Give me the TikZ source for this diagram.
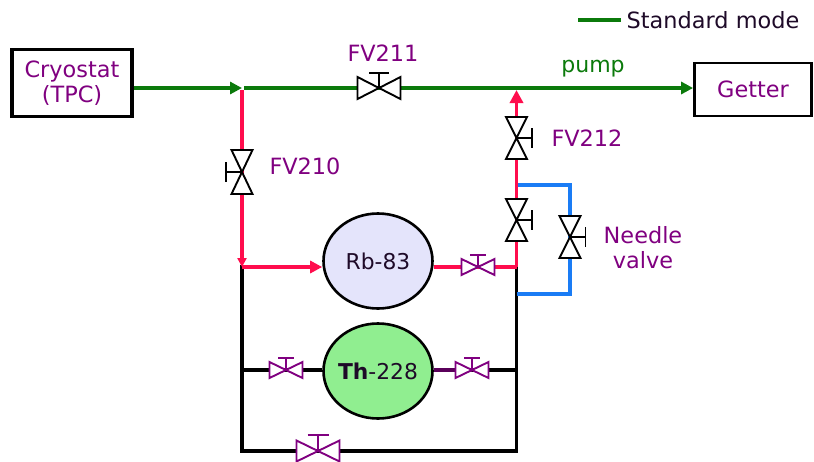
\documentclass[tikz,border=0pt]{standalone}
\usepackage{fontspec}
\setmainfont{DejaVu Sans}
\usetikzlibrary{arrows.meta,calc,shapes.geometric}
\definecolor{pgreen}{HTML}{0B7A0B}
\definecolor{pred}{HTML}{FF0D4D}
\definecolor{pblue}{HTML}{1A7CF5}
\definecolor{ppurple}{HTML}{800080}
\definecolor{pdark}{HTML}{1E0A28}
\definecolor{rbfill}{HTML}{E4E4FB}
\definecolor{thfill}{HTML}{90EE90}
\tikzset{
  boxnode/.style={draw=black,line width=3.2pt,fill=white,inner sep=0pt,align=center,text=ppurple,font=\fontsize{22.4}{26}\selectfont},
  tank/.style={draw=black,line width=2.6pt,ellipse,inner sep=-8pt,minimum width=109pt,minimum height=95pt,text=pdark,font=\fontsize{21.8}{24}\selectfont},
  lbl/.style={inner sep=0pt,align=center,text=ppurple,font=\fontsize{22.4}{26}\selectfont},
  pipe/.style={line width=3.8pt,line join=miter},
  greenpipe/.style={pipe,draw=pgreen},
  redpipe/.style={pipe,draw=pred},
  bluepipe/.style={pipe,draw=pblue},
  blackpipe/.style={pipe,draw=black},
  tip/.style={-{Triangle[length=#1,width=#1]}},
}
% horizontal-flow valve: name, colour, half width, half height, stem, bar half width
\newcommand{\vlvH}[6]{%
  \coordinate (#1stem) at ($(#1)+(0,-#5)$);
  \draw[#2,line width=1.9pt,fill=white,line join=miter]
    ($(#1)+(-#3,-#4)$) -- ($(#1)+(#3,#4)$) -- ($(#1)+(#3,-#4)$) -- ($(#1)+(-#3,#4)$) -- cycle;
  \draw[#2,line width=1.9pt] (#1) -- (#1stem);
  \draw[#2,line width=1.9pt] ($(#1stem)+(-#6,0)$) -- ($(#1stem)+(#6,0)$);
}
% vertical-flow valve: name, colour, half width, half height, signed stem, bar half height
\newcommand{\vlvV}[6]{%
  \coordinate (#1stem) at ($(#1)+(#5,0)$);
  \draw[#2,line width=1.9pt,fill=white,line join=miter]
    ($(#1)+(-#3,-#4)$) -- ($(#1)+(#3,-#4)$) -- ($(#1)+(-#3,#4)$) -- ($(#1)+(#3,#4)$) -- cycle;
  \draw[#2,line width=1.9pt] (#1) -- (#1stem);
  \draw[#2,line width=1.9pt] ($(#1stem)+(0,-#6)$) -- ($(#1stem)+(0,#6)$);
}
\begin{document}
\begin{tikzpicture}[x=1pt,y=-1pt]
\useasboundingbox (0,0) rectangle (814,461);
% nodes
\node[boxnode,minimum width=120pt,minimum height=67pt] (cryo) at (72,83) {Cryostat\\[-1pt](TPC)};
\node[boxnode,minimum width=117pt,minimum height=53pt,line width=2.8pt] (getter) at (753,89.5) {Getter};
\node[tank,fill=rbfill] (rb) at (378,261) {Rb-83};
\node[tank,fill=thfill] (th) at (378,371) {\textbf{Th}-228};
% junctions
\coordinate (jtop) at (242,88);
\coordinate (jtopb) at (244,88);
\coordinate (jrtop) at (516.5,90);
\coordinate (jla) at (242,90);
\coordinate (jl) at (242,267);
\coordinate (jr) at (516.5,267);
\coordinate (jbt) at (516.5,185);
\coordinate (blt) at (570,185);
\coordinate (blb) at (570,294);
\coordinate (jbb) at (516.5,294);
\coordinate (thl) at (242,370);
\coordinate (thr) at (516.5,370);
\coordinate (bl) at (242,451);
\coordinate (br) at (516.5,451);
\coordinate (lega) at (578,20);
\coordinate (legb) at (621,20);
% valve centres
\coordinate (fvb) at (379,88);
\coordinate (fva) at (242,172);
\coordinate (fvc) at (516.5,138);
\coordinate (vmid) at (516.5,220);
\coordinate (needle) at (570,237);
\coordinate (vrb) at (478,267);
\coordinate (vthl) at (286,370);
\coordinate (vthr) at (472,370);
\coordinate (vbot) at (318,451);
% pipes
\draw[blackpipe,line cap=rect] (jl) -- (bl) -- (br) -- (jr);
\draw[blackpipe] (thl) -- (thl -| th.west);
\draw[blackpipe] (thr -| th.east) -- (thr);
\draw[line width=3.8pt,draw=ppurple!70!black] (thr -| th.east) -- (vthr);
\draw[bluepipe] (jbt) -- (blt) -- (blb) -- (jbb);
\draw[redpipe,tip=9pt] (jla) -- (jl);
\draw[redpipe,tip=12pt,line width=4pt] (jl) -- (jl -| rb.west);
\draw[redpipe,line width=4pt] (jr -| rb.east) -- (jr);
\draw[redpipe,tip=13pt] (jr) -- (jrtop);
\draw[greenpipe,tip=12pt] (cryo.east |- jtop) -- (jtop);
\draw[greenpipe,line width=3.2pt,tip=12pt] (jtopb) -- (jtopb -| getter.west);
\draw[greenpipe] (jtopb) -- (fvb);
\draw[greenpipe,line width=3.2pt] (lega) -- (legb);
% valves
\vlvH{fvb}{black}{21.5}{11}{15}{10}
\vlvV{fva}{black}{10.5}{22}{-16}{10}
\vlvV{fvc}{black}{10.5}{21}{15.5}{10}
\vlvV{vmid}{black}{10.5}{21}{15.5}{10}
\vlvV{needle}{black}{10.5}{21}{15.5}{10}
\vlvH{vrb}{ppurple}{16.5}{8}{12}{8}
\vlvH{vthl}{ppurple}{16.5}{8}{12}{8}
\vlvH{vthr}{ppurple}{16.5}{8}{12}{8}
\vlvH{vbot}{ppurple}{21.5}{10.5}{16}{10.5}
% labels
\node[lbl] (l211) at (383,53) {FV211};
\node[lbl] (l210) at (305,166) {FV210};
\node[lbl] (l212) at (587,138) {FV212};
\node[lbl] (lneedle) at (643,248) {Needle\\[-1pt]valve};
\node[lbl,text=pgreen,font=\fontsize{22}{26}\selectfont] (lpump) at (593,69) {pump};
\node[lbl,text=pdark] (lleg) at (713,20) {Standard mode};
\end{tikzpicture}
\end{document}
